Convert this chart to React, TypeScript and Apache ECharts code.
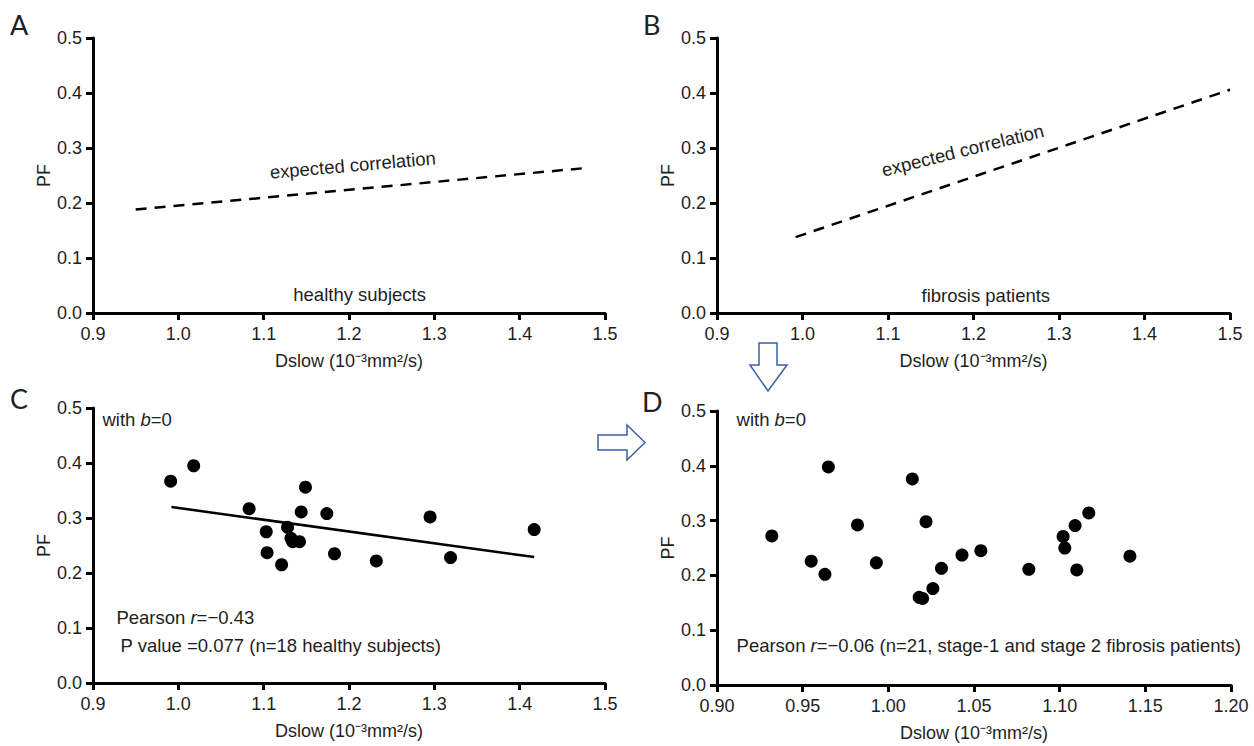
import React, { useEffect, useRef } from "react";
import * as echarts from "echarts";

// ---- data ----
const healthyDslow = [0.991, 1.018, 1.083, 1.149, 1.144, 1.174, 1.295, 1.417, 1.103, 1.128, 1.132, 1.134, 1.142, 1.104, 1.121, 1.183, 1.232, 1.319];
const healthyPF = [0.367, 0.395, 0.317, 0.356, 0.311, 0.308, 0.302, 0.279, 0.275, 0.283, 0.263, 0.257, 0.257, 0.237, 0.215, 0.235, 0.222, 0.228];

const fibrosisDslow = [0.932, 0.955, 0.963, 0.965, 0.982, 0.993, 1.014, 1.022, 1.018, 1.020, 1.026, 1.031, 1.043, 1.054, 1.082, 1.102, 1.103, 1.109, 1.110, 1.117, 1.141];
const fibrosisPF = [0.272, 0.226, 0.202, 0.398, 0.292, 0.223, 0.376, 0.298, 0.160, 0.158, 0.176, 0.213, 0.237, 0.245, 0.211, 0.271, 0.250, 0.291, 0.210, 0.314, 0.235];

const expectedHealthyX = [0.95, 1.48];
const expectedHealthyY = [0.188, 0.264];
const expectedFibrosisX = [0.992, 1.5];
const expectedFibrosisY = [0.138, 0.406];
const fitHealthyX = [0.992, 1.417];
const fitHealthyY = [0.32, 0.229];

const FONT = "'Liberation Sans', Arial, Helvetica, sans-serif";
const TEXT = "#1e1e1e";
const XNAME = "Dslow (10\u207B\u00B3mm\u00B2/s)";
const TICK_FS = 18;
const NOTE_FS = 18.5;

const pairs = (xs: number[], ys: number[]) => xs.map((x, i) => [x, ys[i]]);

type Note = { x: number; y: number; text: string; align: "left" | "center"; rotate?: number };

const notesA: Note[] = [
  { x: 1.205, y: 0.268, text: "expected correlation", align: "center", rotate: 5 },
  { x: 1.213, y: 0.033, text: "healthy subjects", align: "center" },
];
const notesB: Note[] = [
  { x: 1.188, y: 0.295, text: "expected correlation", align: "center", rotate: 14 },
  { x: 1.215, y: 0.031, text: "fibrosis patients", align: "center" },
];
const notesC: Note[] = [
  { x: 0.9117, y: 0.478, text: "with {i|b}=0", align: "left" },
  { x: 0.928, y: 0.118, text: "Pearson {i|r}=\u22120.43", align: "left" },
  { x: 0.9328, y: 0.067, text: "P value =0.077 (n=18 healthy subjects)", align: "left" },
];
const notesD: Note[] = [
  { x: 0.9117, y: 0.4836, text: "with {i|b}=0", align: "left" },
  { x: 0.9117, y: 0.071, text: "Pearson {i|r}=\u22120.06 (n=21, stage-1 and stage 2 fibrosis patients)", align: "left" },
];

function noteSeries(idx: number, notes: Note[]) {
  return {
    type: "scatter",
    xAxisIndex: idx,
    yAxisIndex: idx,
    silent: true,
    symbolSize: 1,
    itemStyle: { color: "rgba(0,0,0,0)", opacity: 1 },
    z: 5,
    data: notes.map((n) => ({
      value: [n.x, n.y],
      label: {
        show: true,
        position: [0, 0],
        align: n.align,
        verticalAlign: "middle",
        rotate: n.rotate || 0,
        formatter: n.text,
        fontSize: NOTE_FS,
        fontFamily: FONT,
        color: TEXT,
        opacity: 1,
        rich: {
          i: { fontStyle: "italic", fontSize: NOTE_FS, fontFamily: FONT, color: TEXT },
        },
      },
    })),
  };
}

function xAxis(idx: number, min: number, max: number, interval: number, digits: number) {
  return {
    gridIndex: idx,
    type: "value",
    min,
    max,
    interval,
    name: XNAME,
    nameLocation: "middle",
    nameGap: 39,
    nameTextStyle: { fontSize: TICK_FS, fontFamily: FONT, color: TEXT },
    axisLine: { onZero: false, lineStyle: { color: "#000", width: 3 } },
    axisTick: { show: true, length: 7, lineStyle: { color: "#000", width: 3 } },
    axisLabel: {
      fontSize: TICK_FS,
      fontFamily: FONT,
      color: TEXT,
      margin: 12,
      formatter: (v: number) => v.toFixed(digits),
    },
    splitLine: { show: false },
  };
}

function yAxis(idx: number) {
  return {
    gridIndex: idx,
    type: "value",
    min: 0,
    max: 0.5,
    interval: 0.1,
    name: "PF",
    nameLocation: "middle",
    nameGap: 40,
    nameTextStyle: { fontSize: TICK_FS, fontFamily: FONT, color: TEXT },
    axisLine: { onZero: false, lineStyle: { color: "#000", width: 3 } },
    axisTick: { show: true, length: 7, lineStyle: { color: "#000", width: 3 } },
    axisLabel: {
      fontSize: TICK_FS,
      fontFamily: FONT,
      color: TEXT,
      margin: 11,
      formatter: (v: number) => v.toFixed(1),
    },
    splitLine: { show: false },
  };
}

function letter(t: string, x: number, y: number) {
  return {
    type: "text",
    x,
    y,
    silent: true,
    style: {
      text: t,
      fontSize: 27,
      fontFamily: "Lato, 'Open Sans', sans-serif",
      fill: "#231f20",
      align: "left",
      verticalAlign: "middle",
    },
  };
}

export default function App() {
  const ref = useRef<HTMLDivElement>(null);
  useEffect(() => {
    if (!ref.current) return;
    const chart = echarts.init(ref.current, undefined, { renderer: "svg" });
    const option = {
      animation: false,
      backgroundColor: "#ffffff",
      grid: [
        { left: 93, top: 38, width: 512, height: 275 },
        { left: 717, top: 38, width: 513, height: 275 },
        { left: 93, top: 408, width: 512, height: 275 },
        { left: 717, top: 411, width: 514, height: 274 },
      ],
      xAxis: [
        xAxis(0, 0.9, 1.5, 0.1, 1),
        xAxis(1, 0.9, 1.5, 0.1, 1),
        xAxis(2, 0.9, 1.5, 0.1, 1),
        xAxis(3, 0.9, 1.2, 0.05, 2),
      ],
      yAxis: [yAxis(0), yAxis(1), yAxis(2), yAxis(3)],
      series: [
        {
          type: "line",
          xAxisIndex: 0,
          yAxisIndex: 0,
          data: pairs(expectedHealthyX, expectedHealthyY),
          symbol: "none",
          lineStyle: { color: "#000", width: 2.5, type: [11, 8] },
        },
        {
          type: "line",
          xAxisIndex: 1,
          yAxisIndex: 1,
          data: pairs(expectedFibrosisX, expectedFibrosisY),
          symbol: "none",
          lineStyle: { color: "#000", width: 2.5, type: [11, 8] },
        },
        {
          type: "line",
          xAxisIndex: 2,
          yAxisIndex: 2,
          data: pairs(fitHealthyX, fitHealthyY),
          symbol: "none",
          lineStyle: { color: "#000", width: 2.5 },
        },
        {
          type: "scatter",
          xAxisIndex: 2,
          yAxisIndex: 2,
          data: pairs(healthyDslow, healthyPF),
          symbol: "circle",
          symbolSize: 13,
          itemStyle: { color: "#000", opacity: 1 },
        },
        {
          type: "scatter",
          xAxisIndex: 3,
          yAxisIndex: 3,
          data: pairs(fibrosisDslow, fibrosisPF),
          symbol: "circle",
          symbolSize: 13,
          itemStyle: { color: "#000", opacity: 1 },
        },
        noteSeries(0, notesA),
        noteSeries(1, notesB),
        noteSeries(2, notesC),
        noteSeries(3, notesD),
      ],
      graphic: [
        letter("A", 10, 24),
        letter("B", 643, 24),
        letter("C", 10, 398),
        letter("D", 642, 401),
        {
          type: "polygon",
          silent: true,
          shape: {
            points: [
              [598, 435], [627, 435], [627, 425], [645, 442.5], [627, 460], [627, 450], [598, 450],
            ],
          },
          style: { fill: "#ffffff", stroke: "#3b5fa8", lineWidth: 1.5 },
        },
        {
          type: "polygon",
          silent: true,
          shape: {
            points: [
              [759, 343], [777, 343], [777, 365], [787, 365], [768, 391], [750, 365], [759, 365],
            ],
          },
          style: { fill: "#ffffff", stroke: "#3b5fa8", lineWidth: 1.5 },
        },
      ],
    };
    chart.setOption(option as any);
    return () => chart.dispose();
  }, []);
  return (
    <div
      ref={ref}
      style={{ position: "fixed", left: 0, top: 0, width: 1254, height: 746, background: "#fff" }}
    />
  );
}
